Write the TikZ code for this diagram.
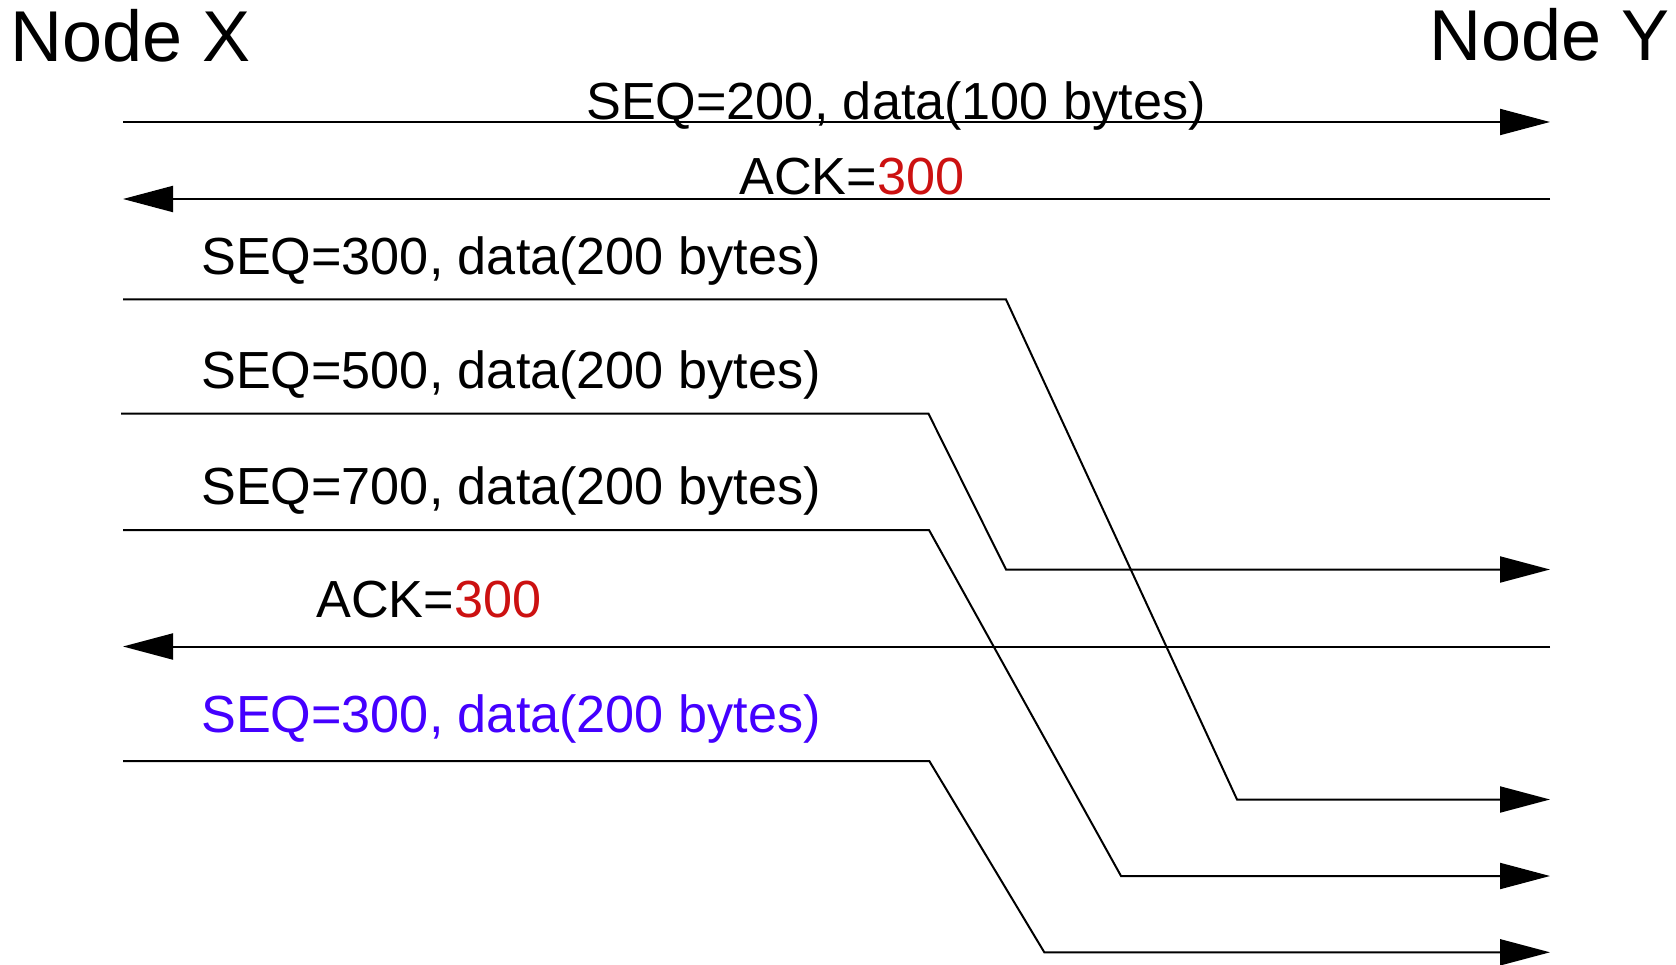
\documentclass[tikz,border=0pt]{standalone}
\usepackage{fontspec}
\setmainfont{Liberation Sans}
\usetikzlibrary{arrows.meta}
\definecolor{ackred}{HTML}{CC1111}
\definecolor{resendblue}{HTML}{4400FF}
\begin{document}
\begin{tikzpicture}[x=1pt,y=-1pt,
  msg/.style={line width=2pt, line join=miter},
  tipend/.style={-{Triangle[length=50pt,width=26pt]}},
  lbl/.style={anchor=base west, inner sep=0pt, font=\fontsize{52.2}{60}\selectfont},
  ttl/.style={inner sep=0pt, font=\fontsize{72}{80}\selectfont}]
\useasboundingbox (0,0) rectangle (1676,965);
% titles
\node[ttl, anchor=base west] (nx) at (10,62) {Node X};
\node[ttl, anchor=base east] (ny) at (1670,61) {Node Y};
% row 1
\coordinate (s1) at (123,122); \coordinate (e1) at (1550,122);
\draw[msg,tipend] (s1) -- (e1);
\node[lbl] (l1) at (586,120) {SEQ=200, data(100 bytes)};
% row 2 ack
\coordinate (s2) at (1550,199); \coordinate (e2) at (123,199);
\draw[msg,tipend] (s2) -- (e2);
\node[lbl] (l2) at (739,195) {ACK=\textcolor{ackred}{300}};
% row 3
\coordinate (s3) at (123,299.5); \coordinate (k3a) at (1006,299.5);
\coordinate (k3b) at (1237,799.5); \coordinate (e3) at (1550,799.5);
\draw[msg,tipend] (s3) -- (k3a) -- (k3b) -- (e3);
\node[lbl] (l3) at (201,274.5) {SEQ=300, data(200 bytes)};
% row 4
\coordinate (s4) at (121,413.7); \coordinate (k4a) at (928.5,413.7);
\coordinate (k4b) at (1006,569.5); \coordinate (e4) at (1550,569.5);
\draw[msg,tipend] (s4) -- (k4a) -- (k4b) -- (e4);
\node[lbl] (l4) at (201,389) {SEQ=500, data(200 bytes)};
% row 5
\coordinate (s5) at (123,530); \coordinate (k5a) at (929,530);
\coordinate (k5b) at (1121,876); \coordinate (e5) at (1550,876);
\draw[msg,tipend] (s5) -- (k5a) -- (k5b) -- (e5);
\node[lbl] (l5) at (201,504.5) {SEQ=700, data(200 bytes)};
% row 6 ack
\coordinate (s6) at (1550,646.5); \coordinate (e6) at (123,646.5);
\draw[msg,tipend] (s6) -- (e6);
\node[lbl] (l6) at (316,617) {ACK=\textcolor{ackred}{300}};
% row 7 resend
\coordinate (s7) at (123,761); \coordinate (k7a) at (929.3,761);
\coordinate (k7b) at (1044.3,952.3); \coordinate (e7) at (1550,952.3);
\draw[msg,tipend] (s7) -- (k7a) -- (k7b) -- (e7);
\node[lbl, text=resendblue] (l7) at (201,732) {SEQ=300, data(200 bytes)};
\end{tikzpicture}
\end{document}
